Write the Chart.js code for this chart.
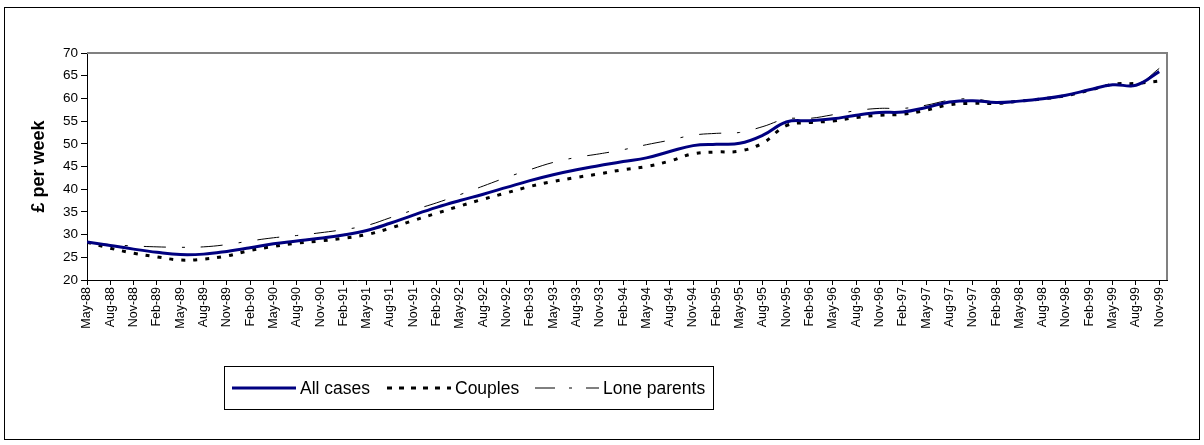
<!DOCTYPE html>
<html>
<head>
<meta charset="utf-8">
<script src="https://cdn.jsdelivr.net/npm/chart.js@4.4.1/dist/chart.umd.min.js"></script>
<style>
  html, body { margin: 0; padding: 0; background: #fff; }
  #wrap { position: relative; width: 1204px; height: 445px; }
  #frame { position: absolute; left: 4px; top: 7px; width: 1196px; height: 433px; border: 1px solid #000; box-sizing: border-box; pointer-events: none; }
</style>
</head>
<body>
<div id="wrap">
  <canvas id="chart" width="1204" height="445"></canvas>
  <div id="frame"></div>
</div>
<script>
// quarterly tick labels, May-88 .. Nov-99
const months = [
  'May-88', 'Aug-88', 'Nov-88',
  'Feb-89', 'May-89', 'Aug-89', 'Nov-89',
  'Feb-90', 'May-90', 'Aug-90', 'Nov-90',
  'Feb-91', 'May-91', 'Aug-91', 'Nov-91',
  'Feb-92', 'May-92', 'Aug-92', 'Nov-92',
  'Feb-93', 'May-93', 'Aug-93', 'Nov-93',
  'Feb-94', 'May-94', 'Aug-94', 'Nov-94',
  'Feb-95', 'May-95', 'Aug-95', 'Nov-95',
  'Feb-96', 'May-96', 'Aug-96', 'Nov-96',
  'Feb-97', 'May-97', 'Aug-97', 'Nov-97',
  'Feb-98', 'May-98', 'Aug-98', 'Nov-98',
  'Feb-99', 'May-99', 'Aug-99', 'Nov-99'
];

// £ per week, one value per quarter
const allCases = [
  28.4, 27.6, 26.8,
  26.1, 25.6, 25.7, 26.3,
  27.1, 28.0, 28.6, 29.2,
  29.9, 30.9, 32.5, 34.3,
  36.0, 37.5, 38.9, 40.4,
  41.9, 43.2, 44.3, 45.2,
  46.1, 46.9, 48.3, 49.6,
  49.9, 50.1, 51.9, 54.8,
  55.1, 55.5, 56.3, 56.9,
  57.0, 58.0, 59.2, 59.5,
  59.1, 59.4, 59.9, 60.7,
  61.9, 63.0, 62.9, 65.9
];
const couples = [
  28.3, 27.0, 25.9,
  25.1, 24.4, 24.6, 25.3,
  26.5, 27.4, 28.1, 28.6,
  29.2, 30.0, 31.4, 33.1,
  34.7, 36.3, 37.8, 39.2,
  40.6, 41.7, 42.6, 43.4,
  44.3, 45.0, 46.2, 47.8,
  48.2, 48.4, 50.2, 54.0,
  54.7, 55.0, 55.8, 56.3,
  56.5, 57.4, 58.6, 58.9,
  58.9, 59.4, 59.9, 60.6,
  61.8, 63.1, 63.3, 63.8
];
const loneParents = [
  28.3, 27.8, 27.5,
  27.3, 27.2, 27.3, 27.8,
  28.6, 29.3, 29.8, 30.4,
  31.1, 32.0, 33.7, 35.4,
  37.0, 38.8, 40.7, 42.6,
  44.3, 45.9, 47.0, 47.8,
  48.7, 49.8, 50.8, 51.9,
  52.3, 52.5, 53.8, 55.5,
  55.6, 56.4, 57.3, 57.8,
  57.8, 58.5, 59.6, 59.9,
  59.2, 59.4, 59.9, 60.7,
  61.9, 62.9, 62.8, 66.6
];

const yTicks = [20, 25, 30, 35, 40, 45, 50, 55, 60, 65, 70];

const FONT = "'Liberation Sans', Arial, sans-serif";

// x in months counted from May-88
function toPoints(values) {
  return values.map((v, i) => ({ x: i * 3, y: v }));
}

// gray frame on top and right of plot area
const plotFrame = {
  id: 'plotFrame',
  afterDatasetsDraw(chart) {
    const { ctx, chartArea: a } = chart;
    ctx.save();
    ctx.strokeStyle = '#808080';
    ctx.lineWidth = 2;
    ctx.beginPath();
    ctx.moveTo(a.left, a.top);
    ctx.lineTo(a.right, a.top);
    ctx.lineTo(a.right, a.bottom);
    ctx.stroke();
    ctx.restore();
  }
};

// boxed legend below the axis, like the original
const boxLegend = {
  id: 'boxLegend',
  afterDraw(chart) {
    const ctx = chart.ctx;
    const starts = [232, 387, 535];
    const y = 388;
    ctx.save();
    ctx.strokeStyle = '#000';
    ctx.lineWidth = 1;
    ctx.strokeRect(224.5, 366.5, 489, 43);
    ctx.font = '17.5px ' + FONT;
    ctx.fillStyle = '#000';
    ctx.textBaseline = 'middle';
    chart.data.datasets.forEach((ds, i) => {
      const x0 = starts[i];
      ctx.save();
      ctx.strokeStyle = ds.borderColor;
      ctx.lineWidth = ds.borderWidth;
      ctx.setLineDash(ds.legendDash || ds.borderDash || []);
      ctx.beginPath();
      ctx.moveTo(x0, y);
      ctx.lineTo(x0 + 64, y);
      ctx.stroke();
      ctx.restore();
      ctx.fillText(ds.label, x0 + 68, y + 1);
    });
    ctx.restore();
  }
};

new Chart(document.getElementById('chart'), {
  type: 'line',
  data: {
    datasets: [{
      label: 'All cases',
      data: toPoints(allCases),
      borderColor: '#000080',
      borderWidth: 3,
      pointRadius: 0,
      tension: 0.4
    }, {
      label: 'Couples',
      data: toPoints(couples),
      borderColor: '#000',
      borderWidth: 3,
      borderDash: [4, 8],
      legendDash: [5, 7],
      pointRadius: 0,
      tension: 0.4
    }, {
      label: 'Lone parents',
      data: toPoints(loneParents),
      borderColor: '#000',
      borderWidth: 1,
      borderDash: [22, 16, 3, 16],
      legendDash: [20, 14, 3, 14],
      pointRadius: 0,
      tension: 0.4
    }]
  },
  options: {
    responsive: false,
    animation: false,
    layout: { padding: { left: 0, top: 53, right: 37, bottom: 0 } },
    plugins: {
      legend: { display: false },
      tooltip: { enabled: false }
    },
    scales: {
      x: {
        type: 'linear',
        bounds: 'data',
        min: 0,
        max: 139,
        border: { color: '#000', width: 1 },
        grid: { drawOnChartArea: false, color: '#000', tickLength: 5 },
        ticks: {
          stepSize: 3,
          includeBounds: false,
          autoSkip: false,
          minRotation: 90,
          maxRotation: 90,
          padding: 2,
          color: '#000',
          font: { family: FONT, size: 12.5 },
          callback: v => (v % 3 === 0 ? months[v / 3] : null)
        },
        afterFit: s => { s.height = 165; }
      },
      y: {
        min: yTicks[0],
        max: yTicks[yTicks.length - 1],
        border: { color: '#000', width: 1 },
        grid: { drawOnChartArea: false, color: '#000', tickLength: 6 },
        ticks: {
          stepSize: 5,
          padding: 3,
          color: '#000',
          font: { family: FONT, size: 13.5 }
        },
        title: {
          display: true,
          text: '£ per week',
          color: '#000',
          padding: { top: 28, bottom: 0 },
          font: { family: FONT, size: 18, weight: 'bold' }
        },
        afterFit: s => { s.width = 87; }
      }
    }
  },
  plugins: [plotFrame, boxLegend]
});
</script>
</body>
</html>
